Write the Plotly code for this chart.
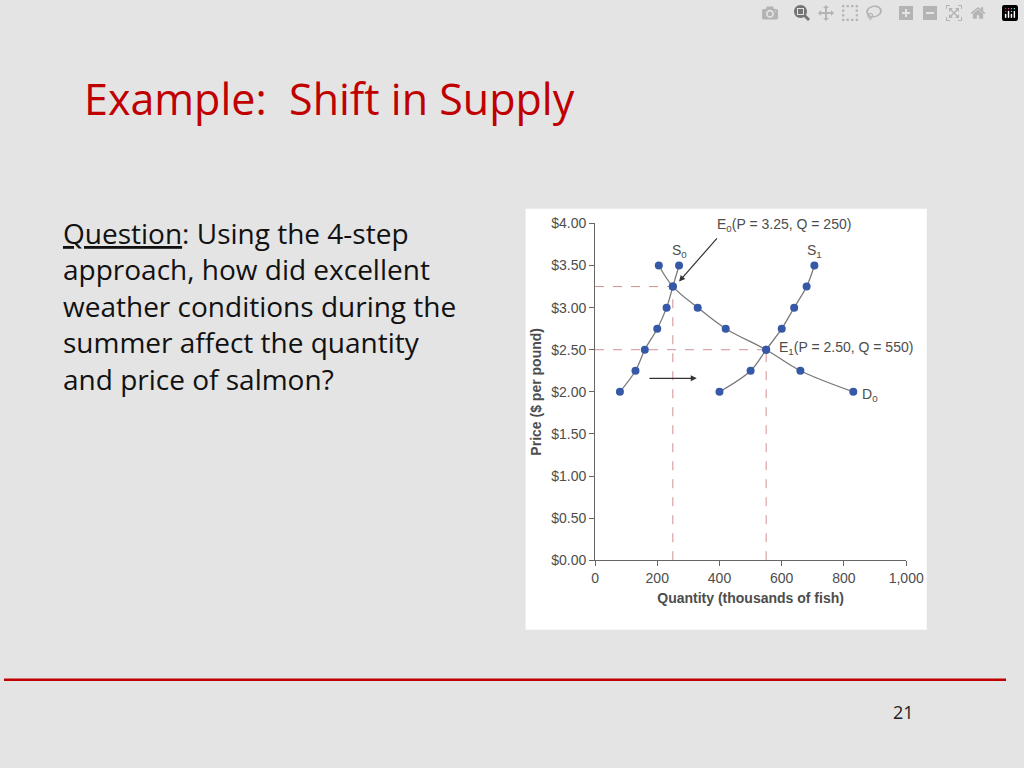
import plotly.graph_objects as go

# supply / demand data (quantity in thousands of fish, price in $)
prices = [2.00, 2.25, 2.50, 2.75, 3.00, 3.25, 3.50]
s0_qty = [80, 130, 160, 200, 230, 250, 270]
s1_qty = [400, 500, 550, 600, 640, 680, 705]
d0_qty = [830, 660, 550, 420, 330, 250, 205]
x_ticks = [0, 200, 400, 600, 800, 1000]
x_labels = ["0", "200", "400", "600", "800", "1,000"]
y_ticks = [0, 0.5, 1, 1.5, 2, 2.5, 3, 3.5, 4]
y_labels = ["$0.00", "$0.50", "$1.00", "$1.50", "$2.00", "$2.50", "$3.00", "$3.50", "$4.00"]

W, H = 1024, 768
def px(x): return x / W
def py(y): return 1 - y / H

line_col = "#7a7a7a"
dot_col = "#3559a6"
axis_font = dict(family="Liberation Sans Narrow, Liberation Sans, Arial", size=14, color="#4d4d4d")

fig = go.Figure()
for q in (s0_qty, s1_qty, d0_qty):
    fig.add_trace(go.Scatter(
        x=q, y=prices, mode="lines+markers", line=dict(color=line_col, width=1.3, shape="spline"),
        marker=dict(color=dot_col, size=8), showlegend=False, hoverinfo="skip"))

# equilibrium dashed guides
for q, p in ((250, 3.25), (550, 2.50)):
    fig.add_shape(type="line", x0=0, x1=q, y0=p, y1=p, xref="x", yref="y",
                  line=dict(color="#d09090", width=1, dash="dash"), layer="below")
    fig.add_shape(type="line", x0=q, x1=q, y0=0, y1=p, xref="x", yref="y",
                  line=dict(color="#d09090", width=1, dash="dash"), layer="below")

# white chart panel
fig.add_shape(type="rect", xref="paper", yref="paper", x0=px(533), x1=px(943), y0=py(635), y1=py(205),
              fillcolor="white", line=dict(width=0), layer="below")
# red rule
fig.add_shape(type="line", xref="paper", yref="paper", x0=0, x1=1, y0=py(686), y1=py(686),
              line=dict(color="#c00000", width=2.5))

ann = [
    dict(x=270, y=3.31, ax=396, ay=3.84, axref="x", ayref="y", text="", showarrow=True,
         arrowhead=2, arrowsize=1, arrowwidth=1.2, arrowcolor="#333"),
    dict(x=327, y=2.16, ax=170, ay=2.16, axref="x", ayref="y", text="", showarrow=True,
         arrowhead=2, arrowsize=1, arrowwidth=1.2, arrowcolor="#333"),
    dict(x=385, y=3.98, text="E<sub>0</sub>(P = 3.25, Q = 250)", xanchor="left"),
    dict(x=272, y=3.67, text="S<sub>0</sub>", xanchor="center"),
    dict(x=705, y=3.67, text="S<sub>1</sub>", xanchor="center"),
    dict(x=585, y=2.52, text="E<sub>1</sub>(P = 2.50, Q = 550)", xanchor="left"),
    dict(x=850, y=1.96, text="D<sub>0</sub>", xanchor="left"),
]
for a in ann:
    a.setdefault("showarrow", False)
    a.update(xref="x", yref="y", font=axis_font)
fig.update_layout(annotations=ann)

fig.add_annotation(xref="paper", yref="paper", x=px(80), y=py(92), text="Example:  Shift in Supply",
                   showarrow=False, xanchor="left", yanchor="middle",
                   font=dict(family="Open Sans, Liberation Sans", size=43, color="#c00000"))
fig.add_annotation(xref="paper", yref="paper", x=px(58), y=py(208), align="left",
                   text="<u>Question</u>: Using the 4-step<br>approach, how did excellent<br>weather conditions during the<br>summer affect the quantity<br>and price of salmon?",
                   showarrow=False, xanchor="left", yanchor="top",
                   font=dict(family="Open Sans, Liberation Sans", size=28, color="#111"))
fig.add_annotation(xref="paper", yref="paper", x=px(932), y=py(733), text="21", showarrow=False,
                   font=dict(family="Open Sans, Liberation Sans", size=18, color="#222"))

fig.update_layout(
    width=W, height=H, margin=dict(l=0, r=0, t=0, b=0),
    paper_bgcolor="#e4e4e4", plot_bgcolor="white",
    xaxis=dict(domain=[px(604), px(922)], range=[0, 1000], tickvals=x_ticks, ticktext=x_labels,
               showgrid=False, zeroline=False, showline=True, linecolor="#666", ticks="outside",
               ticklen=5, tickcolor="#666", tickfont=axis_font,
               title=dict(text="<b>Quantity (thousands of fish)</b>", font=axis_font, standoff=8)),
    yaxis=dict(domain=[py(564), py(220)], range=[0, 4], tickvals=y_ticks, ticktext=y_labels,
               showgrid=False, zeroline=False, showline=True, linecolor="#666", ticks="outside",
               ticklen=5, tickcolor="#666", tickfont=axis_font,
               title=dict(text="<b>Price ($ per pound)</b>", font=axis_font, standoff=6)),
)

fig.write_html("out.html", post_script="document.body.style.margin='0';")
